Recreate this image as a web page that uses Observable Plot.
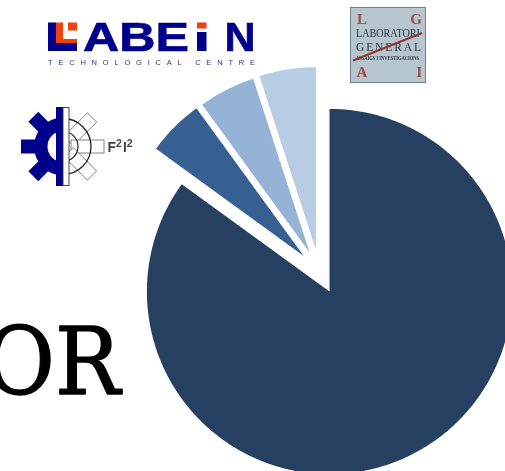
<!DOCTYPE html>
<html>
<head>
<meta charset="utf-8">
<script src="https://cdn.jsdelivr.net/npm/d3@7"></script>
<script src="https://cdn.jsdelivr.net/npm/@observablehq/plot@0.6"></script>
<style>
  html, body { margin: 0; padding: 0; background: #fff; overflow: hidden; }
  #wrap { position: relative; width: 505px; height: 471px; overflow: hidden; }
  #wrap > svg { position: absolute; left: 0; top: 0; }
</style>
</head>
<body>
<div id="wrap"></div>
<script>
// Data
const sliceNames = ["A", "B", "C", "D"];
const sliceValues = [85, 5, 5, 5];
const sliceColors = ["#254061", "#366092", "#95B3D7", "#B8CCE4"];
const explodeDistance = [0, 0.24, 0.24, 0.24];
const explodeBearing = [0, 324, 333, 342];
const bigWord = "OR";

// Pie layout, in units of the radius
const arcs = d3.pie().sort(null).startAngle(0).endAngle(2 * Math.PI)(sliceValues);
const pieRows = [];
arcs.forEach((a, i) => {
  const b = explodeBearing[i] * Math.PI / 180;
  const ox = explodeDistance[i] * Math.sin(b);
  const oy = explodeDistance[i] * Math.cos(b);
  pieRows.push({slice: sliceNames[i], x: ox, y: oy});
  const steps = Math.ceil((a.endAngle - a.startAngle) * 180 / Math.PI * 2);
  for (let s = 0; s <= steps; s++) {
    const t = a.startAngle + (a.endAngle - a.startAngle) * s / steps;
    pieRows.push({slice: sliceNames[i], x: ox + Math.sin(t), y: oy + Math.cos(t)});
  }
});

const W = 505, H = 471, CX = 329, CY = 291, R = 182.6;
const chart = Plot.plot({
  width: W, height: H,
  margin: 0,
  style: {background: "transparent"},
  x: {axis: null, domain: [-CX / R, (W - CX) / R]},
  y: {axis: null, domain: [-(H - CY) / R, CY / R]},
  color: {domain: sliceNames, range: sliceColors},
  marks: [
    Plot.line(pieRows, {x: "x", y: "y", z: "slice", fill: "slice", stroke: "none", curve: "linear"}),
    Plot.text([bigWord], {
      text: d => d, frameAnchor: "top-left", textAnchor: "end", lineAnchor: "bottom",
      dx: 119.5, dy: 393, fontSize: 94, fontFamily: "DejaVu Serif", fill: "#000",
      stroke: "#000", strokeWidth: 1.4, className: "bigword"
    })
  ]
});
document.getElementById("wrap").appendChild(chart);
d3.select(chart).selectAll(".bigword text").attr("textLength", 136).attr("lengthAdjust", "spacingAndGlyphs");

// Logos (decoration)
const logos = d3.select("#wrap").append("svg").attr("width", W).attr("height", H).attr("viewBox", `0 0 ${W} ${H}`)
  .style("filter", "blur(0.35px)");
const NAVY = "#00008c", RED = "#f0410f";

// LABEIN
const lab = logos.append("g");
lab.append("path").attr("fill", NAVY).attr("d", "M48 22.5H56V43H77V51H48Z");
lab.append("path").attr("fill", RED).attr("d", "M56 22.5H63V39H77V43H56Z");
lab.append("rect").attr("fill", RED).attr("x", 68).attr("y", 22.5).attr("width", 9).attr("height", 8);
const big = (t, x, len) => lab.append("text").text(t).attr("x", x).attr("y", 51)
  .attr("font-family", "Liberation Sans").attr("font-weight", 700).attr("font-size", 40).attr("fill", NAVY)
  .attr("stroke", NAVY).attr("stroke-width", 0.7)
  .attr("textLength", len).attr("lengthAdjust", "spacingAndGlyphs");
big("ABE", 83, 106);
lab.append("rect").attr("fill", RED).attr("x", 197).attr("y", 22.5).attr("width", 9.5).attr("height", 6);
lab.append("rect").attr("fill", NAVY).attr("x", 197).attr("y", 32).attr("width", 9.5).attr("height", 19);
big("N", 224.5, 31);
lab.append("text").text("TECHNOLOGICAL CENTRE").attr("x", 48).attr("y", 65)
  .attr("font-family", "Liberation Sans").attr("font-size", 7.5).attr("fill", "#30357a")
  .attr("textLength", 207).attr("lengthAdjust", "spacing");

// F2I2 gear
const gx = 63, gy = 146.5;
const gear = logos.append("g");
const cid = "gearLeft";
logos.append("clipPath").attr("id", cid).append("rect").attr("x", 0).attr("y", 90).attr("width", gx).attr("height", 110);
const left = gear.append("g").attr("clip-path", `url(#${cid})`).attr("fill", NAVY);
left.append("circle").attr("cx", gx).attr("cy", gy).attr("r", 29);
[135, 180, 225].forEach(a => left.append("rect")
  .attr("x", gx + 20).attr("y", gy - 7).attr("width", 22).attr("height", 14)
  .attr("transform", `rotate(${a} ${gx} ${gy})`));
gear.append("path").attr("fill", "#fff").attr("d", `M${gx} ${gy - 15.5}A15.5 15.5 0 0 0 ${gx} ${gy + 15.5}Z`);
[-45, 0, 45].forEach(a => gear.append("rect")
  .attr("x", gx + 8).attr("y", gy - 6.5).attr("width", 33).attr("height", 13)
  .attr("fill", "#fff").attr("stroke", "#777").attr("stroke-width", 0.9)
  .attr("transform", `rotate(${a} ${gx} ${gy})`));
gear.append("path").attr("fill", "none").attr("stroke", "#222").attr("stroke-width", 1.3)
  .attr("d", `M${gx} ${gy - 28}A28 28 0 0 1 ${gx} ${gy + 28}`);
gear.append("path").attr("fill", "none").attr("stroke", "#222").attr("stroke-width", 1.2)
  .attr("d", `M${gx} ${gy - 15}A15 15 0 0 1 ${gx} ${gy + 15}`);
gear.append("rect").attr("x", gx - 7).attr("y", 107).attr("width", 7).attr("height", 79).attr("fill", NAVY);
gear.append("rect").attr("x", gx).attr("y", 107.5).attr("width", 6).attr("height", 78).attr("fill", "#fff").attr("stroke", "#333").attr("stroke-width", 0.9);
const f2 = logos.append("text").attr("x", 107.5).attr("y", 152).attr("font-family", "Liberation Sans").attr("font-weight", 700).attr("fill", "#444").attr("font-size", 14);
f2.append("tspan").text("F");
f2.append("tspan").text("2").attr("font-size", 10.5).attr("dy", -5);
f2.append("tspan").text("I").attr("dy", 5).attr("dx", 1);
f2.append("tspan").text("2").attr("font-size", 10.5).attr("dy", -5);

// LGAI
const lg = logos.append("g");
lg.append("rect").attr("x", 350.5).attr("y", 7.5).attr("width", 75).attr("height", 75).attr("fill", "#b5c6cf").attr("stroke", "#6f8090").attr("stroke-width", 1);
const serif = (t, x, y, size, fill, anchor, len) => {
  const e = lg.append("text").text(t).attr("x", x).attr("y", y).attr("font-family", "Liberation Serif")
    .attr("font-size", size).attr("fill", fill).attr("text-anchor", anchor || "start");
  if (len) e.attr("textLength", len).attr("lengthAdjust", "spacingAndGlyphs");
  return e;
};
const BRICK = "#a04a45", INK = "#2a323c";
serif("L", 357, 24, 15, BRICK).attr("font-weight", 700);
serif("G", 422, 24, 15, BRICK, "end").attr("font-weight", 700);
serif("A", 356.5, 77, 15, BRICK).attr("font-weight", 700);
serif("I", 422, 77, 15, BRICK, "end").attr("font-weight", 700);
serif("LABORATORI", 356, 37, 11.5, INK, "start", 64);
lg.append("text").text("GENERAL").attr("x", 356).attr("y", 51).attr("font-family", "Liberation Serif")
  .attr("font-size", 11.5).attr("fill", INK).attr("textLength", 65).attr("lengthAdjust", "spacing");
serif("ASSAIGS I INVESTIGACIONS", 356, 60, 5.5, INK, "start", 63).attr("font-weight", 700);
lg.append("path").attr("d", "M353 60.5L422 33").attr("stroke", "#9a3434").attr("stroke-width", 2.2).attr("fill", "none");
</script>
</body>
</html>
